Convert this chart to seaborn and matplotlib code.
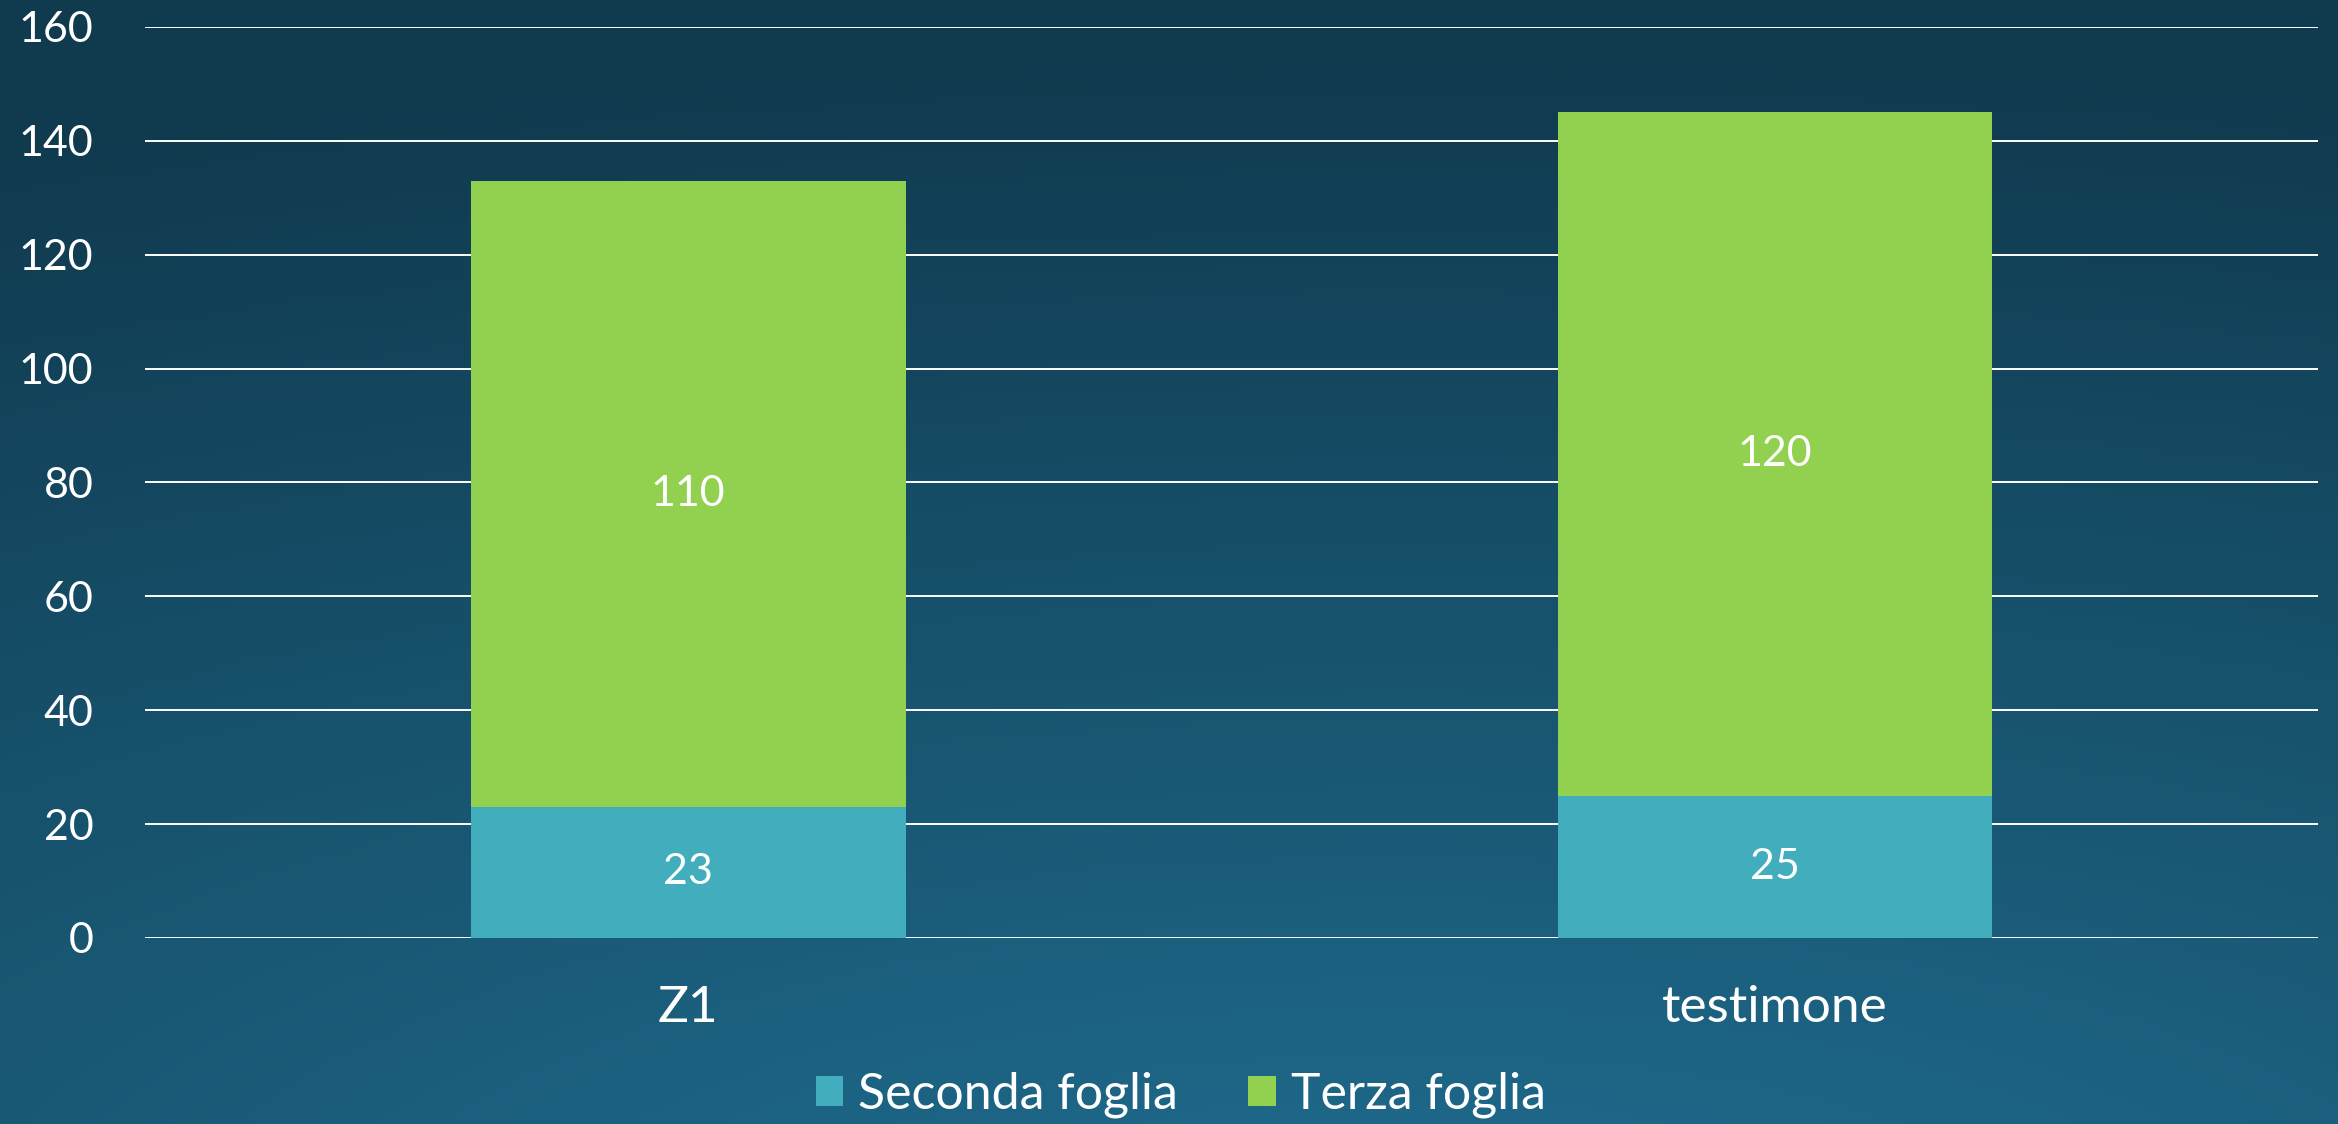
import numpy as np
import pandas as pd
import seaborn as sns
import matplotlib
matplotlib.use("Agg")
from matplotlib import pyplot as plt
from matplotlib.patches import Patch

categories = ["Z1", "testimone"]
seconda = [23, 25]
terza = [110, 120]
series_names = ["Seconda foglia", "Terza foglia"]
yticks = [0, 20, 40, 60, 80, 100, 120, 140, 160]

teal = "#41adbd"
green = "#92d050"

sns.set_theme(style="white")
plt.rcParams["font.family"] = ["Lato", "DejaVu Sans"]
plt.rcParams["text.color"] = "white"

fig = plt.figure(figsize=(23.38, 11.24), dpi=100)
fig.patch.set_facecolor("#134a63")

# background gradient (dark corners, lighter toward bottom centre)
bg = fig.add_axes([0, 0, 1, 1], zorder=-10)
gx, gy = np.meshgrid(np.linspace(0, 1, 400), np.linspace(0, 1, 200))
d = np.sqrt(((gx - 0.6) * 1.0) ** 2 + ((gy - 1.15) * 1.4) ** 2)
t = np.clip(d / 1.55, 0, 1)
c_in = np.array([32, 110, 145]) / 255
c_out = np.array([16, 58, 78]) / 255
img = c_in[None, None, :] * (1 - t[..., None]) + c_out[None, None, :] * t[..., None]
bg.imshow(img, aspect="auto", extent=[0, 1, 0, 1], origin="upper")
bg.set_axis_off()

ax = fig.add_axes([0.062, 0.1655, 0.9295, 0.8105])
ax.set_facecolor("none")

df = pd.DataFrame({"cat": categories, "seconda": seconda, "terza": terza})

sns.barplot(data=df, x="cat", y="seconda", color=teal, width=0.4,
            saturation=1, linewidth=0, ax=ax, zorder=3)
sns.barplot(data=df, x="cat", y="terza", bottom=df["seconda"].values,
            color=green, width=0.4, saturation=1, linewidth=0, ax=ax, zorder=3)

for cont, vals in zip(ax.containers, [seconda, terza]):
    ax.bar_label(cont, labels=[str(v) for v in vals], label_type="center",
                 color="white", fontsize=31)

ax.set_ylim(0, 160)
ax.set_xlim(-0.5, 1.5)
ax.set_yticks(yticks)
ax.yaxis.grid(True, color="white", linewidth=1.4, zorder=0)
ax.set_axisbelow(True)
for s in ax.spines.values():
    s.set_visible(False)
ax.tick_params(axis="y", length=0, pad=37, labelsize=31, labelcolor="white")
ax.tick_params(axis="x", length=0, pad=34, labelsize=37, labelcolor="white")
ax.set_xlabel("")
ax.set_ylabel("")

handles = [Patch(facecolor=teal, edgecolor="none", label=series_names[0]),
           Patch(facecolor=green, edgecolor="none", label=series_names[1])]
fig.legend(handles=handles, loc="center", bbox_to_anchor=(0.505, 0.026),
           ncol=2, frameon=False, fontsize=36, handlelength=0.55,
           handleheight=0.55, handletextpad=0.3, columnspacing=1.4,
           labelcolor="white")

fig.savefig("out.png", dpi=100)
